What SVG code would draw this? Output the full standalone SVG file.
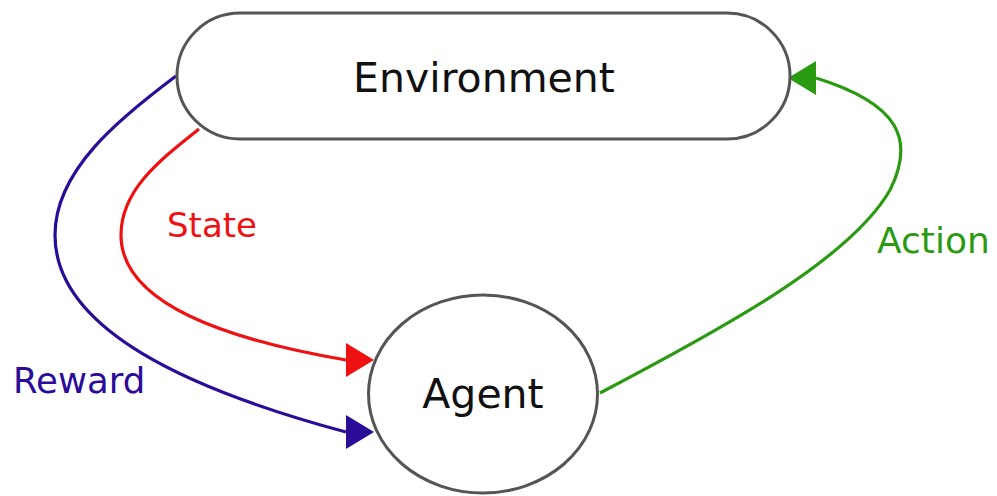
<svg xmlns="http://www.w3.org/2000/svg" width="997" height="496" viewBox="0 0 997 496">
  <style>
    .node { fill: #ffffff; stroke: #555555; stroke-width: 3; }
    .name { font-family: "DejaVu Sans", "Liberation Sans", sans-serif; font-size: 41px; fill: #111111; text-anchor: middle; }
    .label { font-family: "DejaVu Sans", "Liberation Sans", sans-serif; font-size: 34px; }
    .edge { fill: none; stroke-width: 3.2; }
    .reward { stroke: #2a0c98; }
    .state { stroke: #ee1111; }
    .action { stroke: #2a9a12; }
  </style>
  <defs>
    <!-- arrowheads stay horizontal; the path ends at the centre of the triangle's base -->
    <marker id="head-reward" viewBox="0 0 28 34" refX="0" refY="17" markerWidth="28" markerHeight="34" markerUnits="userSpaceOnUse" orient="0">
      <path d="M0,0 L28,17 L0,34 Z" fill="#2a0c98"/>
    </marker>
    <marker id="head-state" viewBox="0 0 28 34" refX="0" refY="17" markerWidth="28" markerHeight="34" markerUnits="userSpaceOnUse" orient="0">
      <path d="M0,0 L28,17 L0,34 Z" fill="#ee1111"/>
    </marker>
    <marker id="head-action" viewBox="0 0 28 34" refX="28" refY="17" markerWidth="28" markerHeight="34" markerUnits="userSpaceOnUse" orient="0">
      <path d="M28,0 L0,17 L28,34 Z" fill="#2a9a12"/>
    </marker>
  </defs>

  <g id="connectors">
    <g id="edge-reward">
      <path class="edge reward" d="M176,76 C120,118 55,170 55,235 C55,330 190,390 346,432" marker-end="url(#head-reward)"/>
      <text class="label" x="13" y="393" fill="#2a0c98" style="font-size:35.5px">Reward</text>
    </g>
    <g id="edge-state">
      <path class="edge state" d="M199,129 C160,160 121,190 121,235 C121,305 230,340 346,360" marker-end="url(#head-state)"/>
      <text class="label" x="167" y="237" fill="#ee1111">State</text>
    </g>
    <g id="edge-action">
      <path class="edge action" d="M600,393 C720,330 850,260 890,190 C915,140 900,104 816,78" marker-end="url(#head-action)"/>
      <text class="label" x="877" y="253" fill="#2a9a12" style="font-size:36px">Action</text>
    </g>
  </g>

  <g id="environment">
    <rect class="node" x="177" y="13" width="613" height="126" rx="63" ry="63"/>
    <text class="name" x="484" y="92">Environment</text>
  </g>

  <g id="agent">
    <ellipse class="node" cx="483" cy="394" rx="114.5" ry="99"/>
    <text class="name" x="483" y="408">Agent</text>
  </g>
</svg>
